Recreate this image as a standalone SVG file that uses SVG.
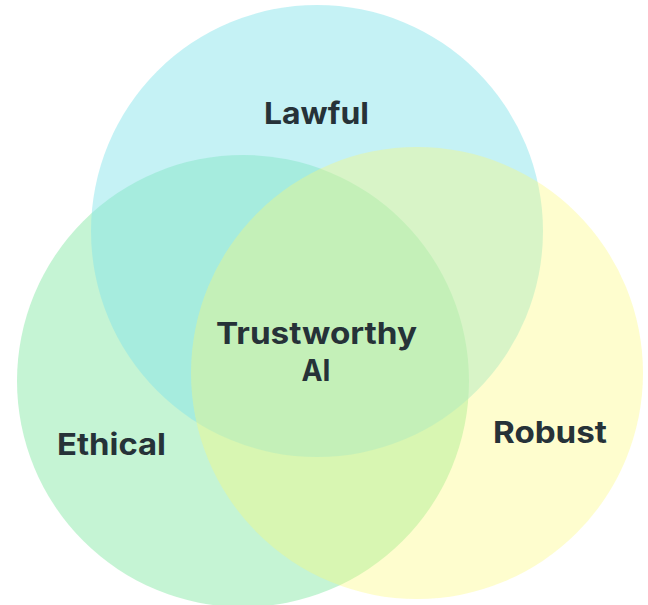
<svg xmlns="http://www.w3.org/2000/svg" width="648" height="605" viewBox="0 0 648 605">
<style>
.lbl{font-family:Inter,"Noto Sans","DejaVu Sans",sans-serif;font-weight:700;font-size:30px;fill:#263238;text-anchor:middle}
</style>
<rect width="648" height="605" fill="#ffffff"/>
<g id="ethical"><circle cx="243" cy="381" r="226" fill="#8be9a9" fill-opacity="0.5"/></g>
<g id="lawful"><circle cx="317" cy="231" r="226" fill="#84e3ea" fill-opacity="0.47"/></g>
<g id="robust"><circle cx="417" cy="373" r="226" fill="#fcf973" fill-opacity="0.35"/></g>
<g id="labels">
<text class="lbl" x="316.5" y="124" textLength="105" lengthAdjust="spacingAndGlyphs">Lawful</text>
<text class="lbl" x="111.5" y="455" textLength="109" lengthAdjust="spacingAndGlyphs">Ethical</text>
<text class="lbl" x="550" y="443" textLength="114" lengthAdjust="spacingAndGlyphs">Robust</text>
<text class="lbl" x="316.5" y="344" textLength="201" lengthAdjust="spacingAndGlyphs">Trustworthy</text>
<text class="lbl" x="316" y="381" textLength="29" lengthAdjust="spacingAndGlyphs">AI</text>
</g>
</svg>
